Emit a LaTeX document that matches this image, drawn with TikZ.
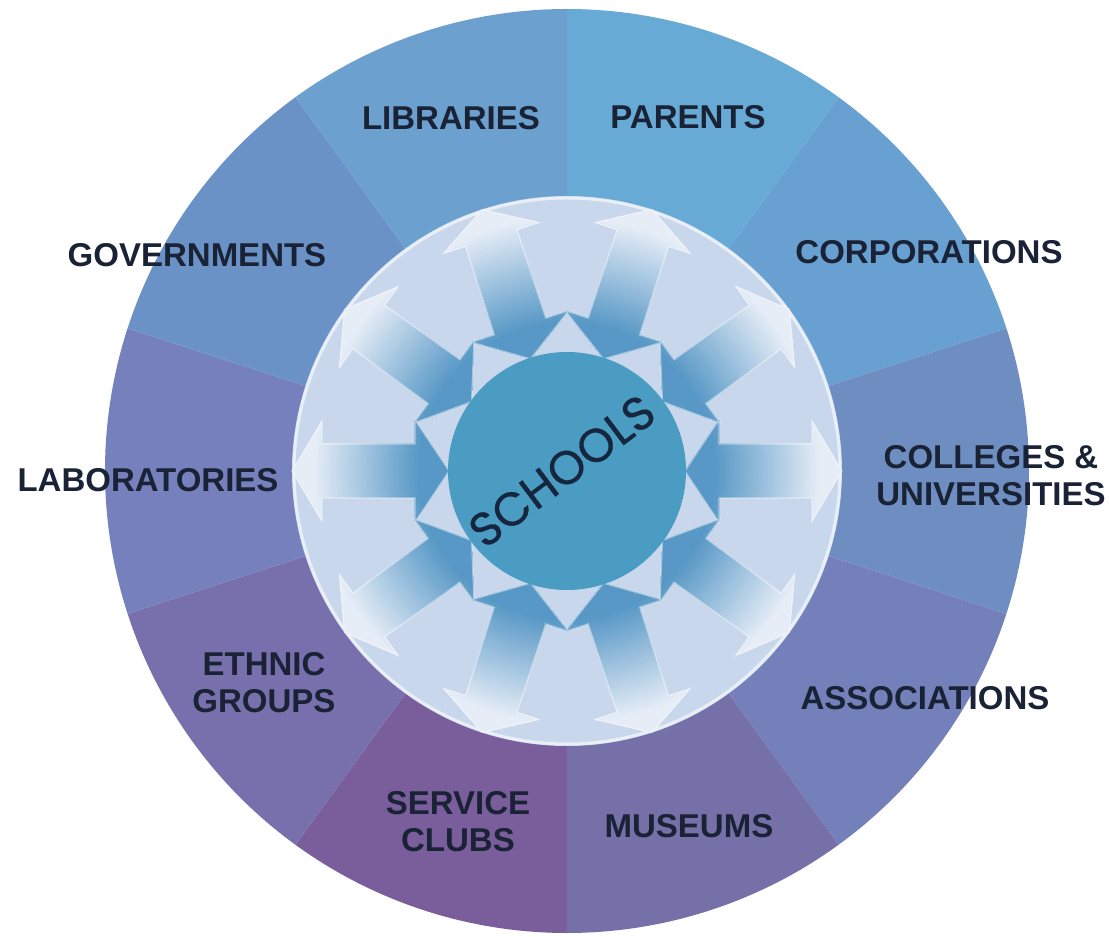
\documentclass[tikz,border=0pt]{standalone}
\usepackage{fontspec}
\setmainfont{Liberation Sans}
\newfontfamily\schoolfont{Poppins}[FakeBold=0.6]
\definecolor{cLib}{HTML}{6CA0CE}
\definecolor{cPar}{HTML}{68AAD6}
\definecolor{cCor}{HTML}{68A0D2}
\definecolor{cCol}{HTML}{6E8EC2}
\definecolor{cAss}{HTML}{7480BA}
\definecolor{cMus}{HTML}{7670A8}
\definecolor{cSer}{HTML}{7A5E9C}
\definecolor{cEth}{HTML}{7870AC}
\definecolor{cLab}{HTML}{7680BC}
\definecolor{cGov}{HTML}{6A92C6}
\definecolor{innerbg}{HTML}{C9D7EC}
\definecolor{centercol}{HTML}{4A9CC2}
\definecolor{labcol}{HTML}{1A2235}
\definecolor{schoolcol}{HTML}{16263F}
\definecolor{arrDark}{HTML}{5898C6}
\definecolor{arrWhite}{HTML}{E6EDF7}
\begin{document}
\begin{tikzpicture}[x=1pt,y=1pt,
  lab/.style={font=\bfseries\fontsize{33}{37}\selectfont, text=labcol, align=center, inner sep=0pt},
  arrowedge/.style={white, opacity=0.45, line width=1.2pt, line join=miter}]
\useasboundingbox (-567,-466) rectangle (542,471);
\fill[white] (-567,-466) rectangle (542,471);
% ring sectors
\foreach \a/\c in {54/cPar, 18/cCor, -18/cCol, -54/cAss, -90/cMus, -126/cSer, -162/cEth, 162/cLab, 126/cGov, 90/cLib}
  \fill[\c] (0,0) -- (\a:462) arc[start angle=\a, delta angle=36, radius=462] -- cycle;
% inner light disc
\fill[innerbg] (0,0) circle (275);
\draw[white, line width=3pt, opacity=0.6] (0,0) circle (273);
% double-headed arrows, fading from blue (inner end) to white (outer end)
\foreach \t in {0,36,...,324} {
  \begin{scope}[rotate=\t]
    \begin{scope}
      \clip (118,0) -- (152,51) -- (152,27) -- (245,27) -- (245,50) -- (275,0)
        -- (245,-50) -- (245,-27) -- (152,-27) -- (152,-51) -- cycle;
      \foreach \r in {276,273,...,117} {
        \pgfmathsetmacro\p{max(0,min(100,100*(255-\r)/105))}
        \fill[arrDark!\p!arrWhite] (0,0) circle (\r);
      }
    \end{scope}
    \draw[arrowedge]
      (118,0) -- (152,51) -- (152,27) -- (245,27) -- (245,50) -- (275,0)
        -- (245,-50) -- (245,-27) -- (152,-27) -- (152,-51) -- cycle;
  \end{scope}
}
% centre disc
\fill[centercol] (0,0) circle (119);
\node[rotate=37, font=\schoolfont\fontsize{47}{47}\selectfont, text=schoolcol, inner sep=0pt] (schools) at (-5,0) {SCHOOLS};
% labels
\node[lab] (libraries) at (-116,353) {LIBRARIES};
\node[lab] (parents) at (121,354) {PARENTS};
\node[lab] (governments) at (-370,216) {GOVERNMENTS};
\node[lab] (corporations) at (362,219) {CORPORATIONS};
\node[lab] (laboratories) at (-419,-9) {LABORATORIES};
\node[lab] (colleges) at (424,-5) {COLLEGES \&\\UNIVERSITIES};
\node[lab] (ethnic) at (-303,-212) {ETHNIC\\GROUPS};
\node[lab] (associations) at (358,-227) {ASSOCIATIONS};
\node[lab] (service) at (-109,-351) {SERVICE\\CLUBS};
\node[lab] (museums) at (122,-355) {MUSEUMS};
\end{tikzpicture}
\end{document}
